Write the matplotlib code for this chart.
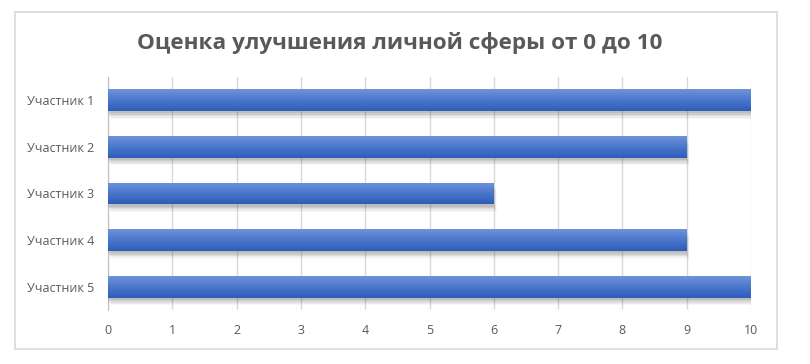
import numpy as np
import matplotlib.pyplot as plt
from matplotlib import patheffects as pe
from matplotlib.patches import Rectangle
from matplotlib.colors import LinearSegmentedColormap

participants = ["Участник 1", "Участник 2", "Участник 3", "Участник 4", "Участник 5"]
scores = [10, 9, 6, 9, 10]
x_ticks = list(range(0, 11))
title = "Оценка улучшения личной сферы от 0 до 10"

plt.rcParams['font.family'] = ['Open Sans', 'DejaVu Sans']

fig = plt.figure(figsize=(8.1, 3.64), dpi=100)
ax = fig.add_axes([108 / 810, 1 - 310 / 364, (751 - 108) / 810, (310 - 77) / 364])

# chart border
fig.patches.append(Rectangle((15 / 810, 1 - 349 / 364), 762 / 810, 337 / 364,
                             transform=fig.transFigure, fill=False,
                             edgecolor='#d9d9d9', linewidth=1.2))

# soft shadow: several faint offset copies
shadow = []
for dx, dy, a in [(0, -1.5, 0.10), (0.5, -2.5, 0.10), (1, -3.5, 0.08), (1.5, -4.5, 0.06), (2, -5.5, 0.04)]:
    shadow.append(pe.SimplePatchShadow(offset=(dx, dy), shadow_rgbFace='#404040', alpha=a))
shadow.append(pe.Normal())

ypos = np.arange(len(participants))
bars = ax.barh(ypos, scores, height=0.47, color='#4472c4', zorder=3, path_effects=shadow)

# vertical gradient fill for each bar
grad = np.linspace(0, 1, 64).reshape(-1, 1)
cmap = LinearSegmentedColormap.from_list('g', ['#6f93d9', '#4a77cc', '#2f5cb8'])
for b in bars:
    x0, y0 = b.get_x(), b.get_y()
    w, h = b.get_width(), b.get_height()
    im = ax.imshow(grad, cmap=cmap, aspect='auto', extent=(x0, x0 + w, y0 + h, y0),
                   origin='upper', zorder=4)
    im.set_clip_path(b)

ax.set_xlim(0, 10)
ax.set_ylim(4.5, -0.5)
ax.set_yticks(ypos)
ax.set_yticklabels(participants)
ax.set_xticks(x_ticks)
ax.grid(axis='x', color='#d9d9d9', linewidth=1, zorder=0)
ax.set_axisbelow(True)
for s in ['top', 'right', 'bottom']:
    ax.spines[s].set_visible(False)
ax.spines['left'].set_color('#bfbfbf')
ax.spines['left'].set_zorder(2)
ax.tick_params(axis='both', length=0, labelsize=9, labelcolor='#595959')
ax.tick_params(axis='x', pad=10)
ax.tick_params(axis='y', pad=10)

fig.text(0.494, 0.882, title, ha='center', va='center', fontsize=16.2,
         fontweight='bold', color='#595959')

fig.savefig('out.png', dpi=100)
